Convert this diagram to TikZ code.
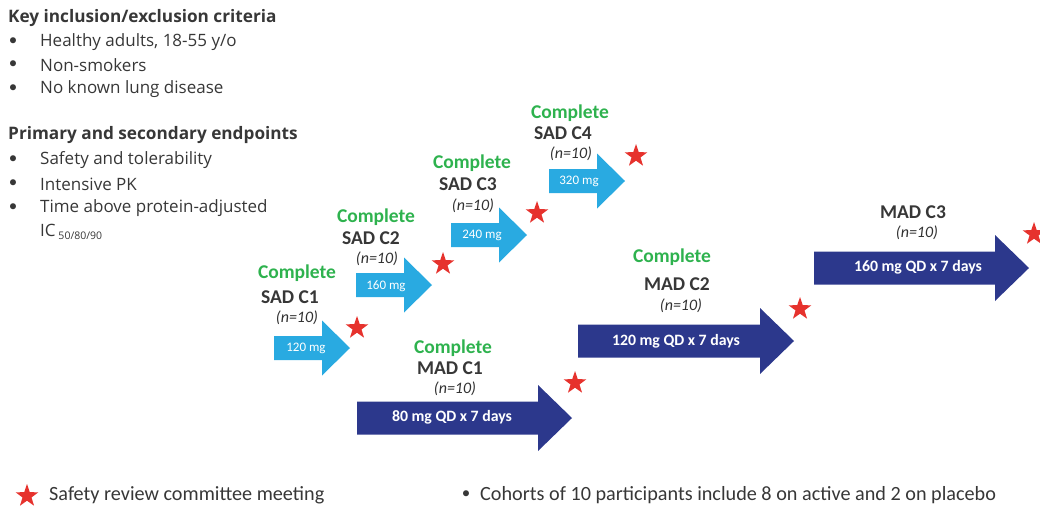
\documentclass[tikz,border=0pt]{standalone}
\usepackage{fontspec}
\setmainfont{Carlito}
\newfontfamily\leftfont{Open Sans}
\usetikzlibrary{shapes.geometric}
\definecolor{sadblue}{RGB}{41,170,225}
\definecolor{madblue}{RGB}{44,56,140}
\definecolor{grn}{RGB}{46,178,78}
\definecolor{starred}{RGB}{230,50,45}
\definecolor{txt}{RGB}{55,55,55}
\newcommand{\dosearrow}[7]{%
  \fill[#7] (#1,#4-#5) -- (#2,#4-#5) -- (#2,#4-#6) -- (#3,#4) -- (#2,#4+#6) -- (#2,#4+#5) -- (#1,#4+#5) -- cycle;}
\tikzset{
  lbl/.style={font=\fontsize{19.5}{22}\selectfont\bfseries, text=txt, inner sep=0pt},
  done/.style={font=\fontsize{19.5}{22}\selectfont\bfseries, text=grn, inner sep=0pt},
  nn/.style={font=\fontsize{16}{18}\selectfont\itshape, text=txt!90!black, inner sep=0pt},
  dose/.style={font=\fontsize{13}{14}\selectfont, text=white, inner sep=0pt},
  mdose/.style={font=\fontsize{15.8}{17}\selectfont\bfseries, text=white, inner sep=0pt},
  srcstar/.style={star, star points=5, star point ratio=2.55, fill=starred, draw=none, minimum size=24pt, inner sep=0pt},
  head/.style={font=\leftfont\fontsize{17.2}{19}\selectfont\bfseries, text=txt, inner sep=0pt, anchor=west},
  item/.style={font=\leftfont\fontsize{17}{19}\selectfont, text=txt, inner sep=0pt, anchor=west},
  bul/.style={font=\fontsize{17}{19}\selectfont, text=txt, inner sep=0pt},
  leg/.style={font=\fontsize{20.2}{22}\selectfont, text=txt, inner sep=0pt, anchor=west},
}
\begin{document}
\begin{tikzpicture}[x=1pt,y=-1pt]
\useasboundingbox (0,0) rectangle (1040,508);
% left text
\node[head] (h1) at (8,18) {Key inclusion/exclusion criteria};
\node[bul] (b1) at (13,42) {•}; \node[item] (i1) at (40,42) {Healthy adults, 18-55 y/o};
\node[bul] (b2) at (13,65) {•}; \node[item] (i2) at (40,65) {Non-smokers};
\node[bul] (b3) at (13,89) {•}; \node[item] (i3) at (40,89) {No known lung disease};
\node[head] (h2) at (8,135) {Primary and secondary endpoints};
\node[bul] (b4) at (13,160) {•}; \node[item] (i4) at (40,160) {Safety and tolerability};
\node[bul] (b5) at (13,184) {•}; \node[item] (i5) at (40,184) {Intensive PK};
\node[bul] (b6) at (13,208) {•}; \node[item] (i6) at (40,208) {Time above protein-adjusted};
\node[item] (i7) at (40,232) {IC\,\raisebox{-0.35ex}{\fontsize{10.5}{12}\selectfont 50/80/90}};
% SAD arrows
\dosearrow{274}{322}{350}{348}{12}{27.5}{sadblue}
\dosearrow{356}{404}{432}{285}{12}{27.5}{sadblue}
\dosearrow{451}{499}{527}{235}{12}{27.5}{sadblue}
\dosearrow{549}{597}{625}{181}{12}{27.5}{sadblue}
\node[dose] (d1) at (306,348) {120 mg};
\node[dose] (d2) at (386,286) {160 mg};
\node[dose] (d3) at (482,235) {240 mg};
\node[dose] (d4) at (579,181) {320 mg};
% MAD arrows
\dosearrow{357}{538}{572}{418}{16.5}{33}{madblue}
\dosearrow{578}{760}{794}{341}{16.5}{33}{madblue}
\dosearrow{814}{995}{1029}{268}{16.5}{33}{madblue}
\node[mdose] (m1) at (452,417) {80 mg QD x 7 days};
\node[mdose] (m2) at (676,341) {120 mg QD x 7 days};
\node[mdose] (m3) at (918,267) {160 mg QD x 7 days};
% SAD labels
\node[done] (c1) at (297,273) {Complete};
\node[lbl] (s1) at (290,297) {SAD C1};
\node[nn] (n1) at (297,318) {(n=10)};
\node[done] (c2) at (376,217) {Complete};
\node[lbl] (s2) at (371,238) {SAD C2};
\node[nn] (n2) at (377,259) {(n=10)};
\node[done] (c3) at (472,163) {Complete};
\node[lbl] (s3) at (468,184) {SAD C3};
\node[nn] (n3) at (473,206) {(n=10)};
\node[done] (c4) at (570,113) {Complete};
\node[lbl] (s4) at (563,133) {SAD C4};
\node[nn] (n4) at (571,154) {(n=10)};
% MAD labels
\node[done] (c5) at (453,348) {Complete};
\node[lbl] (s5) at (450,368) {MAD C1};
\node[nn] (n5) at (455,389) {(n=10)};
\node[done] (c6) at (672,257) {Complete};
\node[lbl] (s6) at (677,284) {MAD C2};
\node[nn] (n6) at (681,306) {(n=10)};
\node[lbl] (s7) at (913,212) {MAD C3};
\node[nn] (n7) at (917,233) {(n=10)};
% stars
\node[srcstar] (st1) at (357,328) {};
\node[srcstar] (st2) at (443,264) {};
\node[srcstar] (st3) at (537,213) {};
\node[srcstar] (st4) at (636,156) {};
\node[srcstar] (st5) at (575,383) {};
\node[srcstar] (st6) at (800,309) {};
\node[srcstar] (st7) at (1034,234) {};
% legend
\node[srcstar] (lst) at (27,496) {};
\node[leg] (l1) at (49,495) {Safety review committee meeting};
\node[bul] (lb) at (466,495) {•};
\node[leg] (l2) at (480,495) {Cohorts of 10 participants include 8 on active and 2 on placebo};
\end{tikzpicture}
\end{document}
